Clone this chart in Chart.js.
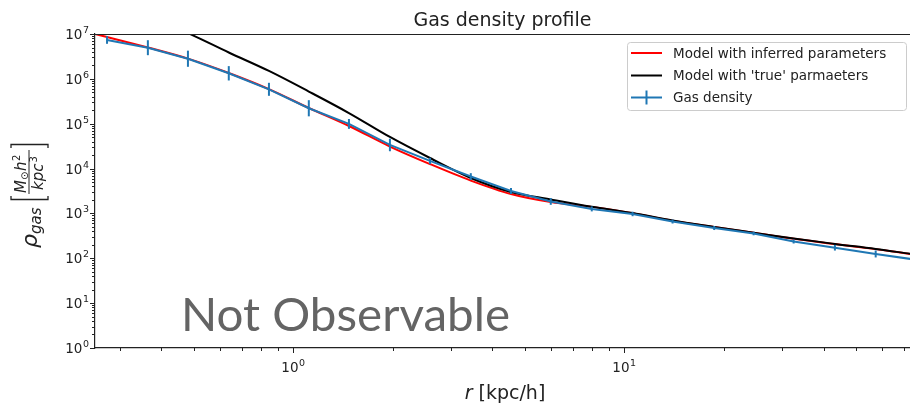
<!DOCTYPE html>
<html>
<head>
<meta charset="utf-8">
<script src="https://cdn.jsdelivr.net/npm/chart.js@4.4.0/dist/chart.umd.min.js"></script>
<style>
  html, body { margin: 0; padding: 0; background: #fff; overflow: hidden; }
</style>
</head>
<body>
<canvas id="densityChart" width="910" height="404"></canvas>
<script>
// gas density bins (r in kpc/h)
const rBins = [0.274, 0.364, 0.481, 0.639, 0.845, 1.115, 1.474, 1.96, 2.59, 3.44, 4.55, 6.0, 7.98, 10.6, 14.0, 18.7, 24.6, 32.5, 43.3, 57.5, 76];
const gasDensity = [7.35e6, 4.95e6, 2.81e6, 1.33e6, 5.85e5, 2.21e5, 9.9e4, 3.36e4, 1.48e4, 6.65e3, 3.16e3, 1.85e3, 1.26e3, 973, 661, 473, 357, 237, 172, 125, 93];
// half length of the error bars, in dex
const gasErrDex = [0.085, 0.167, 0.18, 0.16, 0.145, 0.18, 0.11, 0.14, 0.07, 0.075, 0.067, 0.075, 0.055, 0.05, 0.045, 0.045, 0.04, 0.045, 0.063, 0.078, 0.08];

// model curves
const rModel = [0.252, 0.274, 0.364, 0.481, 0.639, 0.845, 1.115, 1.474, 1.96, 2.59, 3.44, 4.55, 6.0, 7.98, 10.6, 14.0, 18.7, 24.6, 32.5, 43.3, 57.5, 73];
const modelInferred = [1.0e7, 8.57e6, 5.0e6, 2.82e6, 1.35e6, 5.9e5, 2.24e5, 8.9e4, 3.1e4, 1.26e4, 5.4e3, 2.7e3, 1.8e3, 1.4e3, 1.01e3, 690, 496, 369, 272, 207, 160, 125];
const modelTrue = [7.1e7, 5.6e7, 2.5e7, 1.05e7, 3.87e6, 1.5e6, 5.22e5, 1.73e5, 5.06e4, 1.72e4, 6.17e3, 3.0e3, 2.05e3, 1.41e3, 1.02e3, 697, 501, 372, 275, 209, 162, 126];

const xMajorTicks = [1, 10];
const xTickExponents = ['0', '1'];
const yMajorTicks = [1, 10, 100, 1e3, 1e4, 1e5, 1e6, 1e7];
const yTickExponents = ['0', '1', '2', '3', '4', '5', '6', '7'];

const blue = '#1f77b4';
const ink = '#222';

function toPoints(xs, ys) {
    return xs.map((x, i) => ({ x: x, y: ys[i] }));
}

// draws "10" with a raised exponent; align is 'right' or 'center'
function drawPower(ctx, x, baseline, exp, align) {
    ctx.font = '13.5px "DejaVu Sans"';
    const bw = ctx.measureText('10').width;
    ctx.font = '9.5px "DejaVu Sans"';
    const ew = ctx.measureText(exp).width;
    const total = bw + ew + 0.5;
    const left = align === 'right' ? x - total : x - total / 2;
    ctx.textAlign = 'left';
    ctx.textBaseline = 'alphabetic';
    ctx.font = '13.5px "DejaVu Sans"';
    ctx.fillText('10', left, baseline);
    ctx.font = '9.5px "DejaVu Sans"';
    ctx.fillText(exp, left + bw + 0.5, baseline - 6);
}

// frame, ticks, error bars, legend and the extra texts
const decorations = {
    id: 'decorations',
    afterDatasetsDraw(chart) {
        const ctx = chart.ctx;
        const area = chart.chartArea;
        const xs = chart.scales.x;
        const ys = chart.scales.y;

        // error bars on the gas density
        ctx.save();
        ctx.beginPath();
        ctx.rect(area.left, area.top - 1, area.right - area.left, area.bottom - area.top + 2);
        ctx.clip();
        ctx.strokeStyle = blue;
        ctx.lineWidth = 2;
        rBins.forEach((r, i) => {
            const px = xs.getPixelForValue(r);
            const lo = ys.getPixelForValue(gasDensity[i] * Math.pow(10, -gasErrDex[i]));
            const hi = ys.getPixelForValue(gasDensity[i] * Math.pow(10, gasErrDex[i]));
            ctx.beginPath();
            ctx.moveTo(px, lo);
            ctx.lineTo(px, hi);
            ctx.stroke();
        });
        ctx.restore();
    },
    afterDraw(chart) {
        const ctx = chart.ctx;
        const area = chart.chartArea;
        const xs = chart.scales.x;
        const ys = chart.scales.y;

        ctx.save();
        // top spine
        ctx.strokeStyle = ink;
        ctx.lineWidth = 1;
        ctx.beginPath();
        ctx.moveTo(area.left, area.top + 0.5);
        ctx.lineTo(area.right + 1, area.top + 0.5);
        ctx.stroke();

        // tick marks, major and minor
        for (let e = 0; e <= 7; e++) {
            for (let k = 1; k <= 9; k++) {
                const v = k * Math.pow(10, e);
                if (v > 1e7) break;
                const py = Math.round(ys.getPixelForValue(v)) + 0.5;
                const len = k === 1 ? 5 : 3;
                ctx.beginPath();
                ctx.moveTo(area.left - len, py);
                ctx.lineTo(area.left, py);
                ctx.stroke();
            }
        }
        for (let e = -1; e <= 1; e++) {
            for (let k = 1; k <= 9; k++) {
                const v = k * Math.pow(10, e);
                if (v < xs.min || v > xs.max) continue;
                const px = Math.round(xs.getPixelForValue(v)) + 0.5;
                const len = k === 1 ? 5 : 3;
                ctx.beginPath();
                ctx.moveTo(px, area.bottom);
                ctx.lineTo(px, area.bottom + len);
                ctx.stroke();
            }
        }

        // tick labels
        ctx.fillStyle = ink;
        yMajorTicks.forEach((v, i) => {
            drawPower(ctx, area.left - 6, ys.getPixelForValue(v) + 5, yTickExponents[i], 'right');
        });
        xMajorTicks.forEach((v, i) => {
            drawPower(ctx, xs.getPixelForValue(v), area.bottom + 24, xTickExponents[i], 'center');
        });

        // title
        ctx.font = '19px "DejaVu Sans"';
        ctx.textAlign = 'center';
        ctx.textBaseline = 'alphabetic';
        ctx.fillText('Gas density profile', (area.left + area.right) / 2, 26);

        // x axis title: italic r then the unit
        ctx.textAlign = 'left';
        ctx.font = 'italic 19px "DejaVu Sans"';
        const rW = ctx.measureText('r').width;
        ctx.font = '19px "DejaVu Sans"';
        const unitW = ctx.measureText(' [kpc/h]').width;
        const startX = 505 - (rW + unitW) / 2;
        ctx.font = 'italic 19px "DejaVu Sans"';
        ctx.fillText('r', startX, 399);
        ctx.font = '19px "DejaVu Sans"';
        ctx.fillText(' [kpc/h]', startX + rW, 399);

        // y axis title, rotated
        ctx.save();
        ctx.translate(37, 248);
        ctx.rotate(-Math.PI / 2);
        ctx.font = 'italic 22px "DejaVu Sans"';
        ctx.fillText('ρ', 0, 0);
        const rhoW = ctx.measureText('ρ').width;
        ctx.font = 'italic 15px "DejaVu Sans"';
        ctx.fillText('gas', rhoW, 4);
        // brackets
        ctx.lineWidth = 1.3;
        ctx.beginPath();
        ctx.moveTo(52, -26); ctx.lineTo(48.5, -26); ctx.lineTo(48.5, 11); ctx.lineTo(52, 11);
        ctx.moveTo(100, -26); ctx.lineTo(103.5, -26); ctx.lineTo(103.5, 11); ctx.lineTo(100, 11);
        ctx.stroke();
        // fraction line
        ctx.lineWidth = 1;
        ctx.beginPath();
        ctx.moveTo(54, -8);
        ctx.lineTo(98, -8);
        ctx.stroke();
        // numerator M_sun h^2
        ctx.font = 'italic 15px "DejaVu Sans"';
        ctx.fillText('M', 55, -11);
        ctx.font = '10px "DejaVu Sans"';
        ctx.fillText('⊙', 68, -9);
        ctx.font = 'italic 15px "DejaVu Sans"';
        ctx.fillText('h', 77, -11);
        ctx.font = '10px "DejaVu Sans"';
        ctx.fillText('2', 87, -17);
        // denominator kpc^3
        ctx.font = 'italic 15px "DejaVu Sans"';
        ctx.fillText('kpc', 58, 6);
        const kpcW = ctx.measureText('kpc').width;
        ctx.font = '10px "DejaVu Sans"';
        ctx.fillText('3', 58 + kpcW + 1, 0);
        ctx.restore();

        // legend box
        const lx = 627, ly = 42, lw = 279, lh = 68;
        ctx.fillStyle = 'rgba(255,255,255,0.8)';
        ctx.strokeStyle = '#cccccc';
        ctx.lineWidth = 1;
        ctx.beginPath();
        ctx.roundRect(lx + 0.5, ly + 0.5, lw, lh, 3);
        ctx.fill();
        ctx.stroke();
        ctx.font = '13.5px "DejaVu Sans"';
        ctx.textAlign = 'left';
        ctx.textBaseline = 'middle';
        const rows = [53, 75.5, 97.5];
        chart.data.datasets.forEach((ds, i) => {
            const y = rows[i];
            ctx.strokeStyle = ds.borderColor;
            ctx.lineWidth = 2;
            ctx.beginPath();
            ctx.moveTo(631, y);
            ctx.lineTo(662, y);
            ctx.stroke();
            if (i === 2) {
                ctx.beginPath();
                ctx.moveTo(646.5, y - 7);
                ctx.lineTo(646.5, y + 7);
                ctx.stroke();
            }
            ctx.fillStyle = ink;
            ctx.fillText(ds.label, 673, y + 1);
        });

        // overlay text
        ctx.fillStyle = '#646464';
        ctx.textBaseline = 'alphabetic';
        ctx.font = '47px Lato';
        const nw = ctx.measureText('Not Observable').width;
        ctx.save();
        ctx.translate(181, 331);
        ctx.scale(329 / nw, 1);
        ctx.fillText('Not Observable', 0, 0);
        ctx.restore();

        ctx.restore();
    }
};

new Chart(document.getElementById('densityChart'), {
    type: 'scatter',
    data: {
        datasets: [
            {
                label: 'Model with inferred parameters',
                data: toPoints(rModel, modelInferred),
                showLine: true,
                borderColor: 'red',
                borderWidth: 2,
                pointRadius: 0,
                cubicInterpolationMode: 'monotone',
                order: 3
            },
            {
                label: "Model with 'true' parmaeters",
                data: toPoints(rModel, modelTrue),
                showLine: true,
                borderColor: 'black',
                borderWidth: 2,
                pointRadius: 0,
                cubicInterpolationMode: 'monotone',
                order: 2
            },
            {
                label: 'Gas density',
                data: toPoints(rBins, gasDensity),
                showLine: true,
                borderColor: blue,
                borderWidth: 2,
                pointRadius: 0,
                order: 1
            }
        ]
    },
    options: {
        responsive: false,
        animation: false,
        devicePixelRatio: 1,
        layout: { padding: { top: 34, right: 0, left: 0, bottom: 0 } },
        plugins: {
            legend: { display: false },
            title: { display: false },
            tooltip: { enabled: false }
        },
        scales: {
            x: {
                type: 'logarithmic',
                min: 0.252,
                max: 73,
                afterBuildTicks: scale => {
                    scale.ticks = xMajorTicks.map(v => ({ value: v }));
                },
                afterFit: scale => { scale.height = 56; },
                ticks: { display: false },
                grid: { drawOnChartArea: false, drawTicks: false },
                border: { color: ink, width: 1.2 }
            },
            y: {
                type: 'logarithmic',
                min: 1,
                max: 1e7,
                afterBuildTicks: scale => {
                    scale.ticks = yMajorTicks.map(v => ({ value: v }));
                },
                afterFit: scale => { scale.width = 95; },
                ticks: { display: false },
                grid: { drawOnChartArea: false, drawTicks: false },
                border: { color: ink, width: 1.2 }
            }
        }
    },
    plugins: [decorations]
});
</script>
</body>
</html>
